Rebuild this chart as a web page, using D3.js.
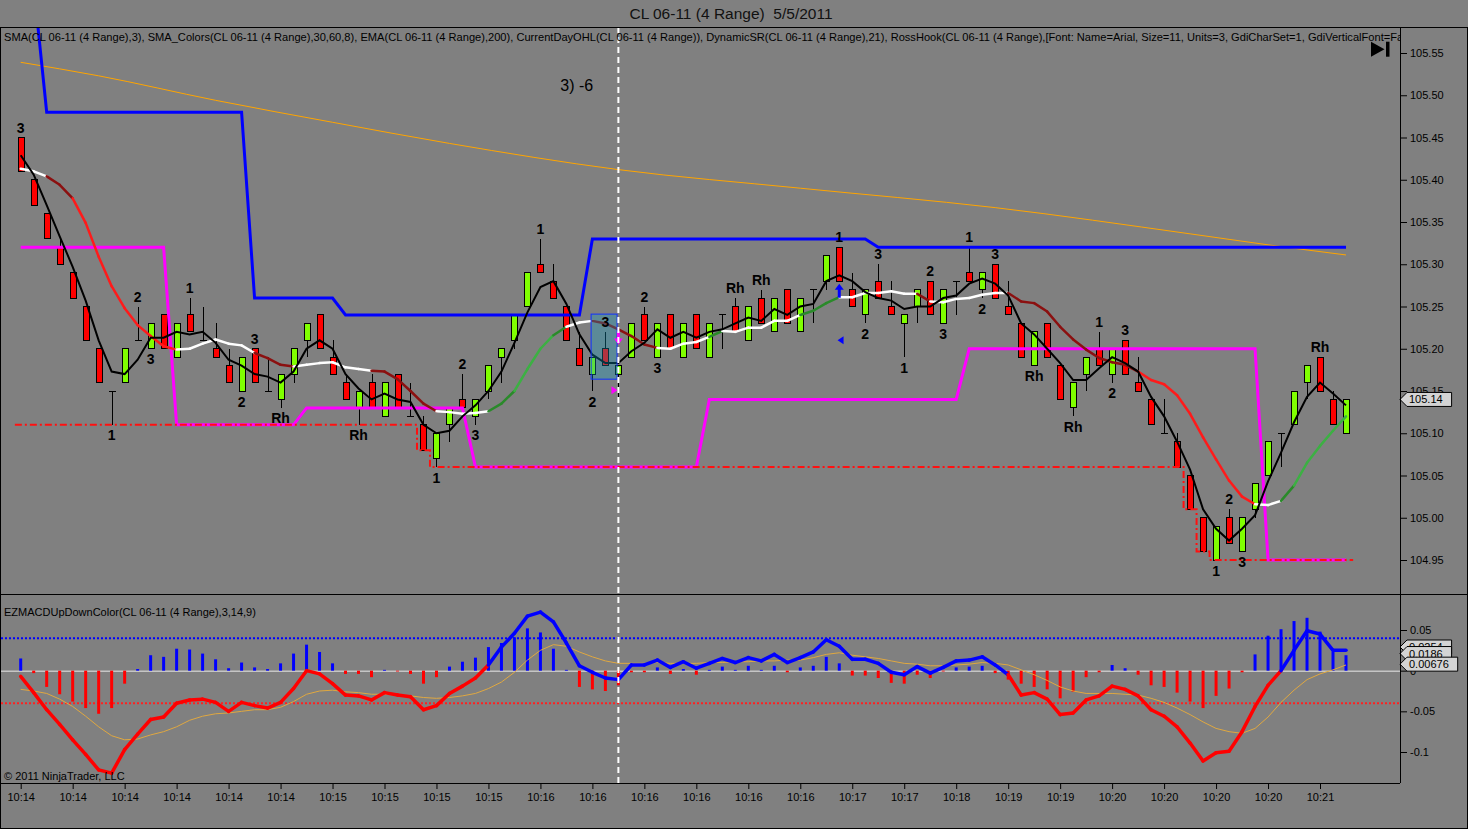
<!DOCTYPE html>
<html>
<head>
<meta charset="utf-8">
<script src="https://cdn.jsdelivr.net/npm/d3@7"></script>
<style>
  body { margin: 0; background: #808080; }
  svg { display: block; font-family: "Liberation Sans", Arial, sans-serif; }
</style>
</head>
<body>
<div id="chart"></div>
<script>
var tickLabels = ['10:14','10:14','10:14','10:14','10:14','10:14','10:15','10:15','10:15','10:15',
  '10:16','10:16','10:16','10:16','10:16','10:16','10:17','10:17','10:18','10:19','10:19',
  '10:20','10:20','10:20','10:20','10:21'];
var priceTicks = [105.55, 105.50, 105.45, 105.40, 105.35, 105.30, 105.25, 105.20, 105.15, 105.10, 105.05, 105.00, 104.95];
var macdTicks = [0.05, 0, -0.05, -0.1];

var opens = [105.45,105.40,105.36,105.32,105.29,105.25,105.20,105.15,105.16,105.21,
  105.20,105.24,105.19,105.24,105.21,105.20,105.18,105.15,105.20,105.15,
  105.14,105.17,105.21,105.24,105.19,105.16,105.13,105.16,105.12,105.17,
  105.12,105.11,105.07,105.11,105.14,105.12,105.15,105.19,105.21,105.25,
  105.30,105.28,105.25,105.20,105.17,105.20,105.17,105.19,105.24,105.19,
  105.24,105.19,105.24,105.19,105.24,105.25,105.21,105.26,105.22,105.27,
  105.22,105.27,105.28,105.32,105.27,105.24,105.28,105.25,105.23,105.25,
  105.28,105.23,105.28,105.29,105.27,105.30,105.25,105.23,105.18,105.23,
  105.18,105.13,105.17,105.20,105.17,105.21,105.16,105.14,105.10,105.09,
  105.05,105.00,104.95,105.00,104.96,105.01,105.05,105.10,105.11,105.16,
  105.19,105.14,105.10];
var highs = [105.45,105.40,105.36,105.33,105.29,105.25,105.20,105.15,105.20,105.25,
  105.23,105.24,105.23,105.26,105.25,105.23,105.20,105.19,105.20,105.19,
  105.17,105.20,105.23,105.24,105.21,105.17,105.15,105.17,105.16,105.17,
  105.16,105.12,105.10,105.13,105.17,105.14,105.18,105.20,105.24,105.29,
  105.33,105.30,105.25,105.22,105.19,105.22,105.18,105.23,105.25,105.23,
  105.24,105.23,105.24,105.23,105.24,105.26,105.25,105.27,105.26,105.27,
  105.26,105.27,105.31,105.32,105.29,105.27,105.30,105.28,105.24,105.27,
  105.28,105.27,105.28,105.32,105.29,105.30,105.28,105.23,105.22,105.23,
  105.18,105.16,105.19,105.22,105.20,105.21,105.19,105.14,105.14,105.10,
  105.05,105.00,104.99,105.01,105.00,105.04,105.09,105.10,105.15,105.18,
  105.19,105.15,105.14];
var lows = [105.41,105.37,105.33,105.30,105.26,105.21,105.16,105.11,105.16,105.21,
  105.20,105.20,105.19,105.22,105.21,105.19,105.16,105.15,105.16,105.15,
  105.13,105.16,105.19,105.20,105.17,105.14,105.11,105.13,105.12,105.13,
  105.12,105.08,105.06,105.09,105.13,105.11,105.14,105.16,105.20,105.25,
  105.29,105.26,105.21,105.18,105.15,105.18,105.14,105.19,105.21,105.19,
  105.20,105.19,105.20,105.19,105.20,105.22,105.21,105.23,105.22,105.23,
  105.22,105.23,105.27,105.28,105.25,105.23,105.26,105.24,105.19,105.23,
  105.24,105.23,105.24,105.28,105.26,105.26,105.24,105.19,105.18,105.19,
  105.14,105.12,105.15,105.18,105.16,105.17,105.15,105.11,105.10,105.06,
  105.01,104.96,104.95,104.97,104.96,105.00,105.05,105.06,105.11,105.14,
  105.15,105.11,105.10];
var closes = [105.41,105.37,105.33,105.30,105.26,105.21,105.16,105.15,105.20,105.21,
  105.23,105.20,105.23,105.22,105.21,105.19,105.16,105.19,105.16,105.15,
  105.17,105.20,105.23,105.20,105.17,105.14,105.15,105.13,105.16,105.13,
  105.12,105.08,105.10,105.13,105.13,105.14,105.18,105.20,105.24,105.29,
  105.29,105.26,105.21,105.18,105.19,105.18,105.18,105.23,105.21,105.23,
  105.20,105.23,105.20,105.23,105.24,105.22,105.25,105.23,105.26,105.23,
  105.26,105.27,105.31,105.28,105.25,105.27,105.26,105.24,105.24,105.27,
  105.24,105.27,105.28,105.28,105.29,105.26,105.24,105.19,105.22,105.19,
  105.14,105.16,105.19,105.18,105.20,105.17,105.15,105.11,105.10,105.06,
  105.01,104.96,104.99,104.97,105.00,105.04,105.09,105.10,105.15,105.18,
  105.15,105.11,105.14];

// SMA(3)
var sma3 = [105.429,105.406,105.370,105.333,105.297,105.257,105.210,105.173,105.170,105.187,
  105.213,105.213,105.220,105.217,105.220,105.207,105.187,105.180,105.170,105.167,
  105.160,105.173,105.200,105.210,105.200,105.170,105.153,105.140,105.147,105.140,
  105.137,105.110,105.100,105.103,105.120,105.133,105.150,105.173,105.207,105.243,
  105.273,105.280,105.253,105.217,105.193,105.183,105.183,105.197,105.207,105.223,
  105.213,105.220,105.213,105.220,105.223,105.230,105.237,105.233,105.247,105.240,
  105.250,105.253,105.280,105.287,105.280,105.267,105.260,105.257,105.247,105.250,
  105.250,105.260,105.263,105.277,105.283,105.277,105.263,105.230,105.217,105.200,
  105.183,105.163,105.163,105.177,105.190,105.183,105.173,105.143,105.120,105.090,
  105.057,105.010,104.987,104.973,104.987,105.003,105.043,105.077,105.113,105.143,
  105.160,105.147,105.133];

// SMA_Colors(8) line and its trend state (-2 .. 2) per segment end
var sma8 = [105.413,105.410,105.404,105.394,105.378,105.349,105.309,105.274,105.248,105.228,
  105.215,105.203,105.199,105.200,105.206,105.211,105.206,105.204,105.195,105.189,
  105.181,105.179,105.181,105.183,105.184,105.178,105.176,105.174,105.173,105.164,
  105.150,105.135,105.126,105.125,105.123,105.124,105.126,105.135,105.150,105.176,
  105.200,105.216,105.226,105.231,105.233,105.230,105.223,105.215,105.205,105.201,
  105.200,105.206,105.208,105.214,105.221,105.220,105.225,105.225,105.233,105.233,
  105.240,105.245,105.254,105.261,105.261,105.266,105.266,105.268,105.265,105.265,
  105.256,105.255,105.259,105.260,105.264,105.266,105.266,105.256,105.254,105.244,
  105.226,105.211,105.199,105.189,105.184,105.181,105.173,105.163,105.158,105.145,
  105.123,105.095,105.069,105.044,105.025,105.016,105.015,105.020,105.038,105.065,
  105.085,105.103,105.120];
var smaTrendSteps = [[0,0],[3,-1],[5,-2],[13,0],[19,-1],[22,0],[28,-1],[33,0],[37,1],[39,2],
  [42,1],[43,0],[45,-1],[50,0],[54,1],[55,0],[61,1],[64,0],[70,-1],[71,0],[77,-1],[87,-2],
  [96,0],[98,1],[99,2]];

var emaBars = [0, 6, 15, 24, 33, 46, 60, 75, 90, 96, 102];
var ema200 = [105.539, 105.523, 105.494, 105.468, 105.443, 105.412, 105.390, 105.367, 105.336, 105.323, 105.311];

var resistanceSteps = [[0,105.63],[2,105.48],[18,105.26],[25,105.24],[44,105.33],[66,105.32]];
var supportSteps = [[0,105.32],[12,105.11],[22,105.13],[35,105.06],[53,105.14],[73,105.20],[96,104.95]];
var dayLowSteps = [[0,105.11],[31,105.08],[32,105.06],[90,105.01],[91,104.96],[92,104.95]];

var hookLabels = [[0,'3','above'],[7,'1','below'],[9,'2','above'],[10,'3','below'],[13,'1','above'],
  [17,'2','below'],[18,'3','above'],[20,'Rh','below'],[26,'Rh','below'],[32,'1','below'],
  [34,'2','above'],[35,'3','below'],[40,'1','above'],[44,'2','below'],[45,'3','above'],
  [48,'2','above'],[49,'3','below'],[55,'Rh','above'],[57,'Rh','above'],[63,'1','above'],
  [65,'2','below'],[66,'3','above'],[68,'1','below'],[70,'2','above'],[71,'3','below'],
  [73,'1','above'],[74,'2','below'],[75,'3','above'],[78,'Rh','below'],[81,'Rh','below'],
  [83,'1','above'],[84,'2','below'],[85,'3','above'],[92,'1','below'],[93,'2','above'],
  [94,'3','below'],[100,'Rh','above']];

var markers = [{bar: 46, price: 105.205, shape: 'arrowDown'}, {bar: 45.7, price: 105.151, shape: 'triRight'},
  {bar: 63, price: 105.277, shape: 'arrowUp'}, {bar: 63.1, price: 105.21, shape: 'triLeft'}];
var drawBox = {from: 43.9, to: 45.9, high: 105.241, low: 105.164};
var note = {bar: 42.8, price: 105.512, text: '3) -6'};
var cursorBar = 46;

// EZMACD(3,14,9)
var macd = [-0.007,-0.027,-0.048,-0.066,-0.085,-0.103,-0.122,-0.126,-0.097,-0.078,
  -0.060,-0.057,-0.040,-0.036,-0.035,-0.039,-0.050,-0.039,-0.043,-0.046,
  -0.039,-0.022,0.000,-0.004,-0.016,-0.030,-0.031,-0.036,-0.027,-0.030,
  -0.032,-0.048,-0.043,-0.028,-0.019,-0.009,0.007,0.029,0.046,0.067,
  0.072,0.060,0.034,0.006,-0.002,-0.009,-0.011,0.007,0.007,0.013,
  0.004,0.011,0.003,0.009,0.015,0.010,0.016,0.012,0.020,0.010,
  0.016,0.023,0.038,0.030,0.014,0.014,0.009,-0.002,-0.005,0.005,
  -0.003,0.004,0.012,0.013,0.017,0.007,-0.005,-0.030,-0.027,-0.035,
  -0.054,-0.052,-0.036,-0.031,-0.019,-0.023,-0.031,-0.048,-0.056,-0.069,
  -0.089,-0.111,-0.101,-0.099,-0.075,-0.044,-0.018,0.000,0.025,0.049,
  0.045,0.025,0.025];
var signal = [-0.023,-0.025,-0.028,-0.035,-0.044,-0.056,-0.069,-0.080,-0.085,-0.084,
  -0.079,-0.075,-0.069,-0.061,-0.056,-0.053,-0.052,-0.050,-0.048,-0.048,
  -0.045,-0.038,-0.029,-0.025,-0.024,-0.026,-0.027,-0.029,-0.029,-0.030,
  -0.031,-0.033,-0.034,-0.033,-0.031,-0.028,-0.022,-0.014,-0.002,0.013,
  0.025,0.032,0.030,0.023,0.017,0.012,0.009,0.009,0.009,0.010,
  0.009,0.009,0.009,0.010,0.010,0.011,0.011,0.012,0.012,0.013,
  0.013,0.016,0.020,0.022,0.019,0.017,0.015,0.012,0.009,0.008,
  0.006,0.006,0.007,0.008,0.010,0.009,0.007,0.001,-0.005,-0.012,
  -0.020,-0.025,-0.028,-0.028,-0.028,-0.029,-0.030,-0.034,-0.039,-0.046,
  -0.054,-0.063,-0.071,-0.075,-0.077,-0.071,-0.057,-0.039,-0.024,-0.011,
  -0.004,0.001,0.007];
var hist = [0.015,-0.003,-0.020,-0.029,-0.038,-0.046,-0.053,-0.046,-0.016,0.002,
  0.019,0.017,0.027,0.026,0.021,0.014,0.003,0.010,0.004,0.002,
  0.009,0.021,0.032,0.023,0.009,-0.004,-0.004,-0.008,0.001,-0.001,
  -0.004,-0.016,-0.008,0.005,0.011,0.016,0.029,0.034,0.041,0.052,
  0.047,0.027,0.001,-0.020,-0.023,-0.025,-0.018,-0.002,-0.002,0.004,
  -0.004,0.002,-0.005,0.001,0.005,0.001,0.006,0.001,0.006,-0.002,
  0.004,0.006,0.017,0.009,-0.006,-0.006,-0.009,-0.015,-0.016,-0.005,
  -0.009,-0.001,0.004,0.005,0.006,-0.003,-0.011,-0.016,-0.020,-0.023,
  -0.034,-0.026,-0.008,-0.002,0.007,0.003,-0.005,-0.018,-0.020,-0.027,
  -0.038,-0.046,-0.031,-0.022,-0.002,0.020,0.043,0.051,0.061,0.065,
  0.048,0.023,0.019];
var macdTrendSteps = [[0,-1],[37,1],[77,-1],[98,1]];
var lastMacd = [0.0254, 0.0186, 0.00676];
var lastPrice = 105.14;

var width = 1468, height = 829,
    plotLeft = 1, plotRight = 1400, plotTop = 27, panelSplit = 594, plotBottom = 783;

var bars = d3.range(closes.length);

function stepSeries(steps) {
  return bars.map(function(i) {
    var v = steps[0][1];
    steps.forEach(function(s) { if (i >= s[0]) v = s[1]; });
    return v;
  });
}

var resistance = stepSeries(resistanceSteps),
    support = stepSeries(supportSteps),
    dayLow = stepSeries(dayLowSteps),
    smaTrend = stepSeries(smaTrendSteps),
    macdTrend = stepSeries(macdTrendSteps);

var svg = d3.select('#chart').append('svg')
  .attr('width', width)
  .attr('height', height);

svg.append('rect').attr('width', width).attr('height', height).attr('fill', '#808080');

var x = d3.scaleLinear().domain([0, closes.length - 1]).range([20.7, 1346]);
var y = d3.scaleLinear().domain([104.95, 105.55]).range([560, 53]);
var ym = d3.scaleLinear().domain([-0.1, 0.05]).range([752, 630]);

var defs = svg.append('defs');
defs.append('clipPath').attr('id', 'clip-price').append('rect')
  .attr('x', plotLeft).attr('y', plotTop)
  .attr('width', plotRight - plotLeft).attr('height', panelSplit - plotTop);
defs.append('clipPath').attr('id', 'clip-macd').append('rect')
  .attr('x', plotLeft).attr('y', panelSplit)
  .attr('width', plotRight - plotLeft).attr('height', plotBottom - panelSplit);

var price = svg.append('g').attr('clip-path', 'url(#clip-price)');
var lower = svg.append('g').attr('clip-path', 'url(#clip-macd)');

// ---- price panel
price.append('path')
  .datum(emaBars)
  .attr('d', d3.line()
    .x(function(d) { return x(d); })
    .y(function(d, i) { return y(ema200[i]); })
    .curve(d3.curveMonotoneX))
  .attr('fill', 'none')
  .attr('stroke', '#ffa500')
  .attr('stroke-width', 1);

var candles = price.append('g').attr('shape-rendering', 'crispEdges');

candles.selectAll('line.wick').data(bars).enter().append('line')
  .attr('class', 'wick')
  .attr('x1', function(d) { return Math.round(x(d)) + 0.5; })
  .attr('x2', function(d) { return Math.round(x(d)) + 0.5; })
  .attr('y1', function(d) { return y(highs[d]); })
  .attr('y2', function(d) { return y(lows[d]); })
  .attr('stroke', '#000');

candles.selectAll('rect.body').data(bars.filter(function(d) { return opens[d] !== closes[d]; }))
  .enter().append('rect')
  .attr('class', 'body')
  .attr('x', function(d) { return Math.round(x(d)) - 2.5; })
  .attr('y', function(d) { return y(Math.max(opens[d], closes[d])); })
  .attr('width', 6)
  .attr('height', function(d) { return Math.abs(y(opens[d]) - y(closes[d])); })
  .attr('fill', function(d) { return closes[d] > opens[d] ? '#80ff00' : '#ff0000'; })
  .attr('stroke', '#000');

candles.selectAll('line.doji').data(bars.filter(function(d) { return opens[d] === closes[d]; }))
  .enter().append('line')
  .attr('class', 'doji')
  .attr('x1', function(d) { return Math.round(x(d)) - 3; })
  .attr('x2', function(d) { return Math.round(x(d)) + 4; })
  .attr('y1', function(d) { return y(opens[d]); })
  .attr('y2', function(d) { return y(opens[d]); })
  .attr('stroke', '#000');

function barLine(values) {
  return d3.line()
    .x(function(d) { return x(d); })
    .y(function(d) { return y(values[d]); })(bars);
}

// day low, stepped on half bars and running half a bar past both ends
var lowPts = bars.map(function(d) { return [x(d), y(dayLow[d])]; });
lowPts.unshift([x(-0.45), y(dayLow[0])]);
lowPts.push([x(bars.length - 0.45), y(dayLow[dayLow.length - 1])]);

price.append('path')
  .attr('d', barLine(support))
  .attr('fill', 'none')
  .attr('stroke', '#ff00ff')
  .attr('stroke-width', 3);

price.append('path')
  .attr('d', d3.line().curve(d3.curveStep)(lowPts))
  .attr('fill', 'none')
  .attr('stroke', '#ff1010')
  .attr('stroke-width', 2)
  .attr('stroke-dasharray', '7,3,2,3');

price.append('path')
  .attr('d', barLine(resistance))
  .attr('fill', 'none')
  .attr('stroke', '#0000ff')
  .attr('stroke-width', 3);

var trendColor = {'-2': '#ff1a1a', '-1': '#8b1010', '0': '#ffffff', '1': '#2a8a2a', '2': '#3cb043'};

price.selectAll('line.sma8').data(bars.slice(1)).enter().append('line')
  .attr('class', 'sma8')
  .attr('x1', function(d) { return x(d - 1); })
  .attr('y1', function(d) { return y(sma8[d - 1]); })
  .attr('x2', function(d) { return x(d); })
  .attr('y2', function(d) { return y(sma8[d]); })
  .attr('stroke', function(d) { return trendColor[smaTrend[d]]; })
  .attr('stroke-width', 2.5)
  .attr('stroke-linecap', 'round');

price.append('path')
  .attr('d', barLine(sma3))
  .attr('fill', 'none')
  .attr('stroke', '#000')
  .attr('stroke-width', 2);

price.append('rect')
  .attr('x', x(drawBox.from))
  .attr('y', y(drawBox.high))
  .attr('width', x(drawBox.to) - x(drawBox.from))
  .attr('height', y(drawBox.low) - y(drawBox.high))
  .attr('fill', 'rgba(16,160,200,0.32)')
  .attr('stroke', '#1030ff')
  .attr('stroke-width', 1);

price.selectAll('text.hook').data(hookLabels).enter().append('text')
  .attr('class', 'hook')
  .attr('x', function(d) { return x(d[0]); })
  .attr('y', function(d) { return d[2] === 'above' ? y(highs[d[0]]) - 5 : y(lows[d[0]]) + 15.5; })
  .attr('text-anchor', 'middle')
  .attr('font-size', 14)
  .attr('font-weight', 'bold')
  .attr('fill', '#000')
  .text(function(d) { return d[1]; });

function markerPath(m) {
  var cx = x(m.bar), cy = y(m.price);
  if (m.shape === 'arrowDown') return 'M' + (cx - 1.5) + ',' + (cy - 13) + 'h3v7h3l-4.5,6l-4.5,-6h3z';
  if (m.shape === 'arrowUp') return 'M' + (cx - 1.5) + ',' + (cy + 14) + 'h3v-8h3l-4.5,-6l-4.5,6h3z';
  if (m.shape === 'triRight') return 'M' + (cx - 3) + ',' + (cy - 4) + 'l6,4l-6,4z';
  return 'M' + (cx + 3) + ',' + (cy - 4) + 'l-6,4l6,4z';
}

price.selectAll('path.marker').data(markers).enter().append('path')
  .attr('class', 'marker')
  .attr('d', markerPath)
  .attr('fill', function(d) { return d.shape === 'arrowDown' || d.shape === 'triRight' ? '#ff00ff' : '#0000ff'; });

price.append('text')
  .attr('x', x(note.bar))
  .attr('y', y(note.price) + 6)
  .attr('text-anchor', 'middle')
  .attr('font-size', 16)
  .attr('fill', '#000')
  .text(note.text);

// ---- MACD panel
lower.append('line')
  .attr('x1', plotLeft).attr('x2', plotRight)
  .attr('y1', ym(0) + 0.5).attr('y2', ym(0) + 0.5)
  .attr('stroke', '#e8e8e8').attr('stroke-width', 1);

[[0.04, '#0000ff'], [-0.04, '#ff2020']].forEach(function(l) {
  lower.append('line')
    .attr('x1', plotLeft).attr('x2', plotRight)
    .attr('y1', ym(l[0])).attr('y2', ym(l[0]))
    .attr('stroke', l[1]).attr('stroke-width', 2)
    .attr('stroke-dasharray', '2,2');
});

lower.selectAll('line.hist').data(bars).enter().append('line')
  .attr('class', 'hist')
  .attr('x1', function(d) { return x(d); })
  .attr('x2', function(d) { return x(d); })
  .attr('y1', ym(0))
  .attr('y2', function(d) { return ym(hist[d]); })
  .attr('stroke', function(d) { return hist[d] >= 0 ? '#0000ff' : '#ff0000'; })
  .attr('stroke-width', 3);

lower.append('path')
  .attr('d', d3.line()
    .x(function(d) { return x(d); })
    .y(function(d) { return ym(signal[d]); })(bars))
  .attr('fill', 'none')
  .attr('stroke', '#e0a840')
  .attr('stroke-width', 1);

lower.selectAll('line.macd').data(bars.slice(1)).enter().append('line')
  .attr('class', 'macd')
  .attr('x1', function(d) { return x(d - 1); })
  .attr('y1', function(d) { return ym(macd[d - 1]); })
  .attr('x2', function(d) { return x(d); })
  .attr('y2', function(d) { return ym(macd[d]); })
  .attr('stroke', function(d) { return macdTrend[d] > 0 ? '#0000ff' : '#ff0000'; })
  .attr('stroke-width', 3.5)
  .attr('stroke-linecap', 'round');

// cursor line through both panels
svg.append('line')
  .attr('x1', x(cursorBar)).attr('x2', x(cursorBar))
  .attr('y1', plotTop).attr('y2', plotBottom)
  .attr('stroke', '#ffffff').attr('stroke-width', 2)
  .attr('stroke-dasharray', '6,4');

// ---- axes
function styleAxis(g) {
  g.select('.domain').remove();
  g.attr('font-size', 11).attr('font-family', '"Liberation Sans", Arial, sans-serif');
  g.selectAll('line').attr('stroke', '#000');
  g.selectAll('text').attr('fill', '#000');
}

svg.append('g')
  .attr('transform', 'translate(' + plotRight + ',0)')
  .call(d3.axisRight(y).tickValues(priceTicks).tickSize(7).tickPadding(3).tickFormat(d3.format('.2f')))
  .call(styleAxis);

svg.append('g')
  .attr('transform', 'translate(' + plotRight + ',0)')
  .call(d3.axisRight(ym).tickValues(macdTicks).tickSize(7).tickPadding(3).tickFormat(function(d) { return String(d); }))
  .call(styleAxis);

svg.append('g')
  .attr('transform', 'translate(0,' + plotBottom + ')')
  .call(d3.axisBottom(x).tickValues(d3.range(0, closes.length, 4)).tickSize(6).tickPadding(4)
    .tickFormat(function(d, i) { return tickLabels[i]; }))
  .call(styleAxis);

// value flags, stacked the way the platform draws them
function flag(yPos, text) {
  var w = 8 + text.length * 6.1;
  svg.append('path')
    .attr('d', 'M' + plotRight + ',' + yPos + 'l7,-7h' + w + 'v14h-' + w + 'z')
    .attr('fill', '#d4d4d4')
    .attr('stroke', '#000');
  svg.append('text')
    .attr('x', plotRight + 9)
    .attr('y', yPos + 4)
    .attr('font-size', 11)
    .attr('fill', '#000')
    .text(text);
}

flag(y(lastPrice), lastPrice.toFixed(2));
lastMacd.forEach(function(v, i) { flag(ym(v) - 3 + i, String(v)); });

// ---- frame and texts
var frame = svg.append('g').attr('stroke', '#000').attr('shape-rendering', 'crispEdges');
frame.append('line').attr('x1', 0).attr('x2', width).attr('y1', plotTop).attr('y2', plotTop);
frame.append('line').attr('x1', 0).attr('x2', width).attr('y1', panelSplit).attr('y2', panelSplit);
frame.append('line').attr('x1', 0).attr('x2', plotRight).attr('y1', plotBottom).attr('y2', plotBottom);
frame.append('line').attr('x1', 0).attr('x2', width).attr('y1', height - 1).attr('y2', height - 1);
frame.append('line').attr('x1', plotRight).attr('x2', plotRight).attr('y1', plotTop).attr('y2', plotBottom);
frame.append('line').attr('x1', 0.5).attr('x2', 0.5).attr('y1', plotTop).attr('y2', height);
frame.append('line').attr('x1', width - 1).attr('x2', width - 1).attr('y1', plotTop).attr('y2', height);

svg.append('text')
  .attr('x', 731).attr('y', 19)
  .attr('text-anchor', 'middle')
  .attr('font-size', 15.5)
  .attr('fill', '#111')
  .style('white-space', 'pre')
  .text('CL 06-11 (4 Range)  5/5/2011');

svg.append('text')
  .attr('x', 4).attr('y', 41)
  .attr('font-size', 11.1)
  .attr('fill', '#000')
  .attr('clip-path', 'url(#clip-price)')
  .text('SMA(CL 06-11 (4 Range),3), SMA_Colors(CL 06-11 (4 Range),30,60,8), EMA(CL 06-11 (4 Range),200), CurrentDayOHL(CL 06-11 (4 Range)), DynamicSR(CL 06-11 (4 Range),21), RossHook(CL 06-11 (4 Range),[Font: Name=Arial, Size=11, Units=3, GdiCharSet=1, GdiVerticalFont=False]');

svg.append('text')
  .attr('x', 4).attr('y', 616)
  .attr('font-size', 11)
  .attr('fill', '#000')
  .text('EZMACDUpDownColor(CL 06-11 (4 Range),3,14,9)');

svg.append('text')
  .attr('x', 4).attr('y', 780)
  .attr('font-size', 11)
  .attr('fill', '#000')
  .text('\u00a9 2011 NinjaTrader, LLC');

svg.append('path').attr('d', 'M1371,41.7L1384.5,49.2L1371,56.7Z').attr('fill', '#000');
svg.append('rect').attr('x', 1386).attr('y', 41.7).attr('width', 3.5).attr('height', 15).attr('fill', '#000');
</script>
</body>
</html>
